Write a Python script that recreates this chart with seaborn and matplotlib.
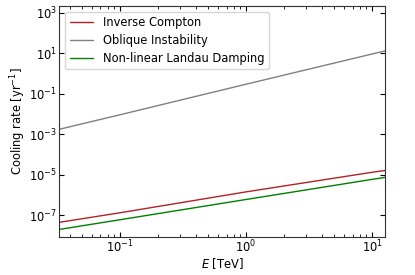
import numpy as np
import pandas as pd
import matplotlib
matplotlib.use("Agg")
import matplotlib.pyplot as plt
import matplotlib.ticker as mticker
import seaborn as sns

# values (log-log straight lines)
energy_tev = [0.033, 0.1, 1.0, 10.0, 12.7]
inverse_compton = [4.4e-8, 1.3e-7, 1.4e-6, 1.3e-5, 1.6e-5]
oblique_instability = [1.73e-3, 9.0e-3, 0.29, 9.0, 12.8]
landau_damping = [1.96e-8, 5.9e-8, 5.9e-7, 5.8e-6, 7.3e-6]

labels = ["Inverse Compton", "Oblique Instability", "Non-linear Landau Damping"]
colors = ["#b22222", "gray", "green"]

df = pd.concat([
    pd.DataFrame({"E": energy_tev, "rate": vals, "process": lab})
    for lab, vals in zip(labels, [inverse_compton, oblique_instability, landau_damping])
], ignore_index=True)

sns.set_style("ticks")
plt.rcParams["font.family"] = ["DejaVu Sans"]
plt.rcParams["font.size"] = 8.3
plt.rcParams["text.color"] = "black"
plt.rcParams["axes.labelcolor"] = "black"
plt.rcParams["xtick.color"] = "black"
plt.rcParams["ytick.color"] = "black"

fig = plt.figure(figsize=(4.15, 2.75), dpi=100)
ax = fig.add_axes([0.143, 0.139, 0.785, 0.839])

sns.lineplot(data=df, x="E", y="rate", hue="process", hue_order=labels,
             palette=dict(zip(labels, colors)), linewidth=1.0, ax=ax,
             errorbar=None, sort=True)

ax.set_xscale("log")
ax.set_yscale("log")
ax.set_xlim(0.033, 12.7)
ax.set_ylim(8.5e-9, 2.1e3)
ax.yaxis.set_major_locator(mticker.FixedLocator([1e-7, 1e-5, 1e-3, 1e-1, 1e1, 1e3]))
ax.yaxis.set_minor_locator(mticker.NullLocator())
ax.tick_params(which="both", direction="in", top=True, right=True, labelsize=8.3,
               colors="black", pad=1.5)
ax.tick_params(which="major", length=3.5, width=0.8)
ax.tick_params(which="minor", length=2, width=0.6)
for s in ax.spines.values():
    s.set_linewidth(0.8)
    s.set_color("#333333")

ax.set_xlabel("$E$ [TeV]", fontsize=8.3, labelpad=0.5)
ax.set_ylabel("Cooling rate [yr$^{-1}$]", fontsize=8.3, labelpad=1)
leg = ax.legend(loc="upper left", fontsize=8.3, frameon=True, handlelength=2.0,
                handletextpad=0.9, labelspacing=0.4)
for t in leg.get_texts():
    t.set_color("black")

fig.savefig("out.png", dpi=100)
